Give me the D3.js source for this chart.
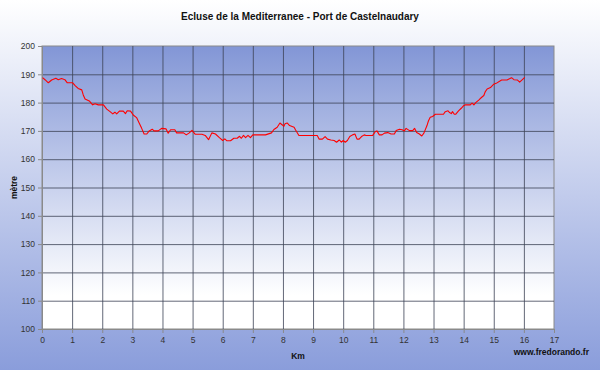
<!DOCTYPE html>
<html>
<head>
<meta charset="utf-8">
<script src="https://cdn.jsdelivr.net/npm/d3@7"></script>
<style>
  body { margin: 0; padding: 0; }
  svg { display: block; font-family: "Liberation Sans", Arial, sans-serif; }
</style>
</head>
<body>
<div class="chart__container"></div>
<script>
/*---------------------------Data---------------------------*/

const TITLE = "Ecluse de la Mediterranee - Port de Castelnaudary";
const X_LABEL = "Km";
const Y_LABEL = "mètre";
const CREDIT = "www.fredorando.fr";

const X_TICKS = d3.range(0, 18, 1);
const Y_TICKS = d3.range(100, 210, 10);

const distance = [
  0.02, 0.11, 0.21, 0.32, 0.46, 0.54, 0.65, 0.76, 0.84, 1.02,
  1.10, 1.20, 1.32, 1.37, 1.43, 1.57, 1.68, 1.76, 1.87, 2.04,
  2.15, 2.26, 2.35, 2.42, 2.48, 2.57, 2.70, 2.77, 2.83, 2.94,
  3.03, 3.14, 3.23, 3.31, 3.39, 3.48, 3.56, 3.66, 3.72, 3.86,
  3.97, 4.12, 4.19, 4.27, 4.41, 4.47, 4.70, 4.79, 4.89, 4.98,
  5.09, 5.31, 5.42, 5.53, 5.64, 5.76, 5.89, 6.00, 6.07, 6.14,
  6.26, 6.37, 6.48, 6.56, 6.62, 6.69, 6.76, 6.84, 6.92, 7.00,
  7.42, 7.62, 7.70, 7.81, 7.90, 7.98, 8.03, 8.07, 8.14, 8.22,
  8.37, 8.42, 8.53, 9.14, 9.20, 9.31, 9.40, 9.48, 9.59, 9.70,
  9.78, 9.87, 9.94, 10.00, 10.07, 10.14, 10.22, 10.31, 10.39, 10.46,
  10.53, 10.61, 10.70, 10.76, 10.98, 11.07, 11.12, 11.20, 11.29, 11.37,
  11.48, 11.59, 11.70, 11.76, 11.87, 11.96, 12.03, 12.09, 12.20, 12.31,
  12.37, 12.44, 12.53, 12.61, 12.68, 12.78, 12.83, 12.89, 12.97, 13.06,
  13.33, 13.39, 13.48, 13.52, 13.59, 13.63, 13.69, 13.74, 13.83, 13.92,
  14.00, 14.06, 14.22, 14.28, 14.34, 14.41, 14.50, 14.59, 14.67, 14.72,
  14.78, 14.89, 15.00, 15.08, 15.26, 15.44, 15.52, 15.59, 15.67, 15.78,
  15.86, 15.94, 16.03
];

const altitude = [
  188.8, 188.0, 187.0, 188.0, 188.6, 188.1, 188.5, 188.1, 187.0, 187.0,
  186.0, 185.0, 184.5, 182.7, 181.3, 180.6, 179.2, 179.6, 179.2, 179.2,
  177.7, 176.8, 176.0, 176.6, 176.0, 177.0, 177.0, 176.1, 177.1, 177.0,
  175.6, 174.7, 172.7, 170.9, 168.9, 168.9, 170.0, 170.6, 170.0, 170.0,
  170.9, 170.7, 169.2, 170.4, 170.4, 169.3, 169.3, 168.6, 169.3, 170.2,
  168.8, 168.8, 168.4, 166.9, 169.3, 168.9, 167.6, 166.6, 167.2, 166.5,
  166.5, 167.4, 167.4, 168.1, 167.4, 168.4, 167.6, 168.4, 167.6, 168.6,
  168.6, 169.3, 170.5, 171.3, 172.8, 172.1, 171.6, 172.5, 172.8, 171.9,
  171.3, 170.3, 168.4, 168.4, 167.1, 167.1, 168.0, 167.1, 166.8, 166.6,
  166.0, 166.8, 166.0, 166.6, 166.0, 166.6, 168.0, 168.6, 168.9, 167.1,
  167.1, 168.0, 168.6, 168.4, 168.4, 169.8, 170.0, 168.6, 168.6, 169.2,
  169.4, 168.9, 168.9, 170.1, 170.6, 170.4, 170.0, 170.9, 170.1, 170.1,
  170.9, 169.4, 168.9, 168.2, 169.2, 171.8, 173.5, 174.8, 175.1, 175.9,
  175.9, 176.8, 177.1, 176.6, 176.1, 176.8, 175.9, 175.9, 177.1, 178.0,
  178.9, 179.2, 179.2, 179.8, 179.2, 180.1, 180.9, 181.8, 182.5, 183.9,
  184.8, 185.3, 186.5, 186.8, 188.0, 188.0, 188.4, 188.8, 188.1, 188.0,
  187.2, 188.0, 188.9
];

/*---------------------------Init---------------------------*/

const CHART__WIDTH = 600;
const CHART__HEIGHT = 370;
const MARGIN = {
    top: 46,
    right: 46,
    bottom: 41,
    left: 42,
}
const COLOR = {
    line: "#ff0000",
    grid: "#3c4255",
    axis: "#8a8a8a",
    text: "#333333",
    pageTop: "#ffffff",
    pageBottom: "#8a9ddb",
    plotTop: "#8296d6",
    plotBottom: "#ffffff"
}
const FONT = "'Liberation Sans', Arial, sans-serif";

/*---------------------------Chart---------------------------*/

const svg = d3.select(".chart__container").append("svg")
    .attr("width", CHART__WIDTH)
    .attr("height", CHART__HEIGHT);

const defs = svg.append("defs");

const pageGrad = defs.append("linearGradient")
    .attr("id", "pageGrad")
    .attr("x1", 0).attr("y1", 0).attr("x2", 0).attr("y2", 1);
pageGrad.append("stop").attr("offset", "0%").attr("stop-color", COLOR.pageTop);
pageGrad.append("stop").attr("offset", "100%").attr("stop-color", COLOR.pageBottom);

const plotGrad = defs.append("linearGradient")
    .attr("id", "plotGrad")
    .attr("x1", 0).attr("y1", 0).attr("x2", 0).attr("y2", 1);
plotGrad.append("stop").attr("offset", "0%").attr("stop-color", COLOR.plotTop);
plotGrad.append("stop").attr("offset", "88%").attr("stop-color", COLOR.plotBottom);
plotGrad.append("stop").attr("offset", "100%").attr("stop-color", COLOR.plotBottom);

//background

svg.append("rect")
    .attr("width", CHART__WIDTH)
    .attr("height", CHART__HEIGHT)
    .attr("fill", "url(#pageGrad)");

const xScale = d3.scaleLinear().domain([0, 17]).range([MARGIN.left, CHART__WIDTH - MARGIN.right]);
const yScale = d3.scaleLinear().domain([100, 200]).range([CHART__HEIGHT - MARGIN.bottom, MARGIN.top]);

const plotW = xScale(17) - xScale(0);
const plotH = yScale(100) - yScale(200);

svg.append("rect")
    .attr("x", xScale(0))
    .attr("y", yScale(200))
    .attr("width", plotW)
    .attr("height", plotH)
    .attr("fill", "url(#plotGrad)")
    .attr("stroke", COLOR.axis)
    .attr("stroke-width", 1);

//grid

svg.append("g")
    .attr("transform", `translate(0,${yScale(200)})`)
    .call(d3.axisBottom(xScale).tickValues(X_TICKS.slice(1, -1)).tickSize(plotH).tickFormat(""))
    .call(g => g.select(".domain").remove())
    .call(g => g.selectAll("line").attr("stroke", COLOR.grid).attr("stroke-opacity", 0.8));

svg.append("g")
    .attr("transform", `translate(${xScale(0)},0)`)
    .call(d3.axisRight(yScale).tickValues(Y_TICKS.slice(1, -1)).tickSize(plotW).tickFormat(""))
    .call(g => g.select(".domain").remove())
    .call(g => g.selectAll("line").attr("stroke", COLOR.grid).attr("stroke-opacity", 0.8));

//axes

const xAxis = svg.append("g")
    .attr("transform", `translate(0,${yScale(100)})`)
    .call(d3.axisBottom(xScale).tickValues(X_TICKS).tickSize(4).tickPadding(4).tickSizeOuter(0));

const yAxis = svg.append("g")
    .attr("transform", `translate(${xScale(0)},0)`)
    .call(d3.axisLeft(yScale).tickValues(Y_TICKS).tickSize(4).tickPadding(3).tickSizeOuter(0));

[xAxis, yAxis].forEach(ax => {
    ax.select(".domain").attr("stroke", COLOR.axis);
    ax.selectAll(".tick line").attr("stroke", COLOR.axis);
    ax.selectAll(".tick text")
        .attr("fill", COLOR.text)
        .style("font-size", "8.5px")
        .style("font-family", FONT);
});

//profile line

const points = distance.map((d, i) => ({ km: d, alt: altitude[i] }));

const line = d3.line()
    .x(d => xScale(d.km))
    .y(d => yScale(d.alt));

svg.append("path")
    .datum(points)
    .attr("d", line)
    .attr("fill", "none")
    .attr("stroke", COLOR.line)
    .attr("stroke-width", 1.1)
    .attr("stroke-linejoin", "round");

//texts

svg.append("text")
    .attr("x", 300)
    .attr("y", 20)
    .attr("text-anchor", "middle")
    .style("font-size", "10px")
    .style("font-weight", "bold")
    .attr("fill", "#111")
    .text(TITLE);

svg.append("text")
    .attr("transform", `translate(17,${(yScale(100) + yScale(200)) / 2}) rotate(-90)`)
    .attr("text-anchor", "middle")
    .style("font-size", "8.5px")
    .style("font-weight", "bold")
    .attr("fill", "#111")
    .text(Y_LABEL);

svg.append("text")
    .attr("x", (xScale(0) + xScale(17)) / 2)
    .attr("y", 359)
    .attr("text-anchor", "middle")
    .style("font-size", "8.5px")
    .style("font-weight", "bold")
    .attr("fill", "#111")
    .text(X_LABEL);

svg.append("text")
    .attr("x", 589)
    .attr("y", 355)
    .attr("text-anchor", "end")
    .style("font-size", "8.5px")
    .style("font-weight", "bold")
    .attr("fill", "#111")
    .text(CREDIT);
</script>
</body>
</html>
